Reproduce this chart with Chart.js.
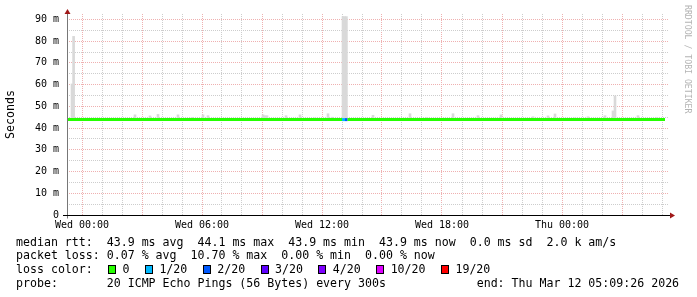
<!DOCTYPE html>
<html>
<head>
<meta charset="utf-8">
<script src="https://cdn.jsdelivr.net/npm/chart.js@4.4.1/dist/chart.umd.min.js"></script>
<style>
html, body { margin: 0; padding: 0; background: #fff; }
#wrap { position: relative; width: 697px; height: 297px; overflow: hidden; }
#graph { position: absolute; left: 0; top: 0; }
.txt { position: absolute; left: 16px; font-family: "DejaVu Sans Mono", monospace; font-size: 11.6px; line-height: 14px; white-space: pre; color: #000; }
#lossRow { position: absolute; left: 108px; top: 262px; display: flex; align-items: center; height: 14px;
  font-family: "DejaVu Sans Mono", monospace; font-size: 11.6px; white-space: pre; color: #000; }
#lossRow .box { display: inline-block; width: 6px; height: 7px; border: 1px solid #000; margin-right: 6.5px; }
#lossRow .lab { margin-right: 15.4px; }
#credit { position: absolute; left: 683px; top: 5px; writing-mode: vertical-rl; font-family: "DejaVu Sans Mono", monospace;
  font-size: 8.2px; color: #b4b4b4; white-space: pre; }
</style>
</head>
<body>
<div id="wrap">
  <canvas id="graph" width="697" height="297"></canvas>
  <div id="credit">RRDTOOL / TOBI OETIKER</div>
  <div class="txt" style="top:235px">median rtt:  43.9 ms avg  44.1 ms max  43.9 ms min  43.9 ms now  0.0 ms sd  2.0 k am/s</div>
  <div class="txt" style="top:248px">packet loss: 0.07 % avg  10.70 % max  0.00 % min  0.00 % now</div>
  <div class="txt" style="top:262px">loss color:</div>
  <div id="lossRow"></div>
  <div class="txt" style="top:276px">probe:       20 ICMP Echo Pings (56 Bytes) every 300s             end: Thu Mar 12 05:09:26 2026</div>
</div>
<script>
// hours relative to Wed 00:00
const hourTicks = [0, 6, 12, 18, 24];
const hourLabels = ['Wed 00:00', 'Wed 06:00', 'Wed 12:00', 'Wed 18:00', 'Thu 00:00'];
const yTickValues = [0, 10, 20, 30, 40, 50, 60, 70, 80, 90];
const yTickLabels = ['0', '10 m', '20 m', '30 m', '40 m', '50 m', '60 m', '70 m', '80 m', '90 m'];

// loss colour legend
const lossNames = ['0', '1/20', '2/20', '3/20', '4/20', '10/20', '19/20'];
const lossColors = ['#26ff00', '#00b8ff', '#0059ff', '#5e00ff', '#7e00ff', '#dd00ff', '#ff0000'];

// smoke (ms), one entry per 5 min step that stands out
const smokeTimes = [-0.5, -0.42, 2.65, 3.4, 3.8, 4.8, 5.5, 6.05, 6.3, 9.05, 9.15, 9.25, 10.2, 10.9, 11.65, 12.3, 12.5,
  13.05, 13.13, 13.22, 14.55, 16.4, 17.25, 18.55, 19.8, 20.95, 22.55, 23.3, 23.65, 24.65, 25.3, 26.15, 26.55, 26.65, 27.8, 28.75];
const smokeLow = [43.5, 43.5, 43.5, 43.5, 43.5, 43.5, 43.5, 43.5, 43.5, 43.5, 43.5, 43.5, 43.5, 43.5, 43.5, 43.5, 43.5,
  43.5, 43.5, 43.5, 43.5, 43.5, 43.5, 43.5, 43.5, 43.5, 43.5, 43.5, 43.5, 43.5, 43.5, 43.5, 43.5, 43.5, 43.5, 43.5];
const smokeHigh = [60.3, 82.2, 46.1, 45.6, 46.3, 46.1, 44.9, 46.1, 45.7, 46.1, 45.7, 45.7, 45.7, 46.1, 44.7, 46.6, 45.0,
  91.3, 91.3, 91.3, 45.9, 46.6, 44.8, 46.6, 45.7, 46.1, 45.2, 45.6, 46.5, 44.7, 45.2, 45.7, 47.9, 54.8, 45.7, 44.8];

// median rtt (ms) and the loss level of the segment that starts at each point
const medianTimes = [-0.75, 13.0, 13.15, 13.28, 29.15];
const medianValues = [43.9, 43.9, 43.9, 43.9, 43.9];
const medianLoss = [0, 1, 2, 0, 0];

const lossRow = document.getElementById('lossRow');
lossNames.forEach((name, i) => {
    const box = document.createElement('span');
    box.className = 'box';
    box.style.background = lossColors[i];
    const lab = document.createElement('span');
    lab.className = 'lab';
    lab.textContent = name;
    lossRow.appendChild(box);
    lossRow.appendChild(lab);
});

const axesPlugin = {
    id: 'rrdAxes',
    afterDatasetsDraw(chart) {
        const ctx = chart.ctx;
        const a = chart.chartArea;
        const y0 = Math.round(chart.scales.y.getPixelForValue(0)) + 0.5;
        ctx.save();
        // y axis
        ctx.strokeStyle = '#777';
        ctx.lineWidth = 1;
        ctx.beginPath();
        ctx.moveTo(a.left + 0.5, y0 + 3);
        ctx.lineTo(a.left + 0.5, a.top - 3);
        ctx.stroke();
        // x axis
        ctx.strokeStyle = '#000';
        ctx.beginPath();
        ctx.moveTo(a.left - 4, y0);
        ctx.lineTo(a.right + 2, y0);
        ctx.stroke();
        // arrows
        ctx.fillStyle = '#a01818';
        ctx.beginPath();
        ctx.moveTo(a.right + 6, y0);
        ctx.lineTo(a.right + 1, y0 - 3);
        ctx.lineTo(a.right + 1, y0 + 3);
        ctx.closePath();
        ctx.fill();
        ctx.beginPath();
        ctx.moveTo(a.left + 0.5, a.top - 5);
        ctx.lineTo(a.left - 2.5, a.top);
        ctx.lineTo(a.left + 3.5, a.top);
        ctx.closePath();
        ctx.fill();
        ctx.restore();
    }
};

const tickFont = { family: 'DejaVu Sans Mono', size: 10 };
const majorGrid = '#efb0b0';
const minorGrid = '#cdcdcd';

new Chart(document.getElementById('graph').getContext('2d'), {
    type: 'bar',
    data: {
        datasets: [{
            type: 'line',
            data: medianTimes.map((t, i) => ({ x: t, y: medianValues[i] })),
            borderWidth: 3,
            borderCapStyle: 'butt',
            pointRadius: 0,
            tension: 0,
            segment: {
                borderColor: c => lossColors[medianLoss[c.p0DataIndex]]
            }
        }, {
            type: 'bar',
            data: smokeTimes.map((t, i) => ({ x: t, y: [smokeLow[i], smokeHigh[i]] })),
            backgroundColor: '#d9d9d9',
            borderWidth: 0,
            barThickness: 2,
            grouped: false
        }]
    },
    options: {
        responsive: false,
        animation: false,
        devicePixelRatio: 1,
        layout: { padding: { top: 13, right: 28, left: 0, bottom: 0 } },
        plugins: { legend: { display: false }, tooltip: { enabled: false } },
        scales: {
            x: {
                type: 'linear',
                offset: false,
                min: -0.75,
                max: 29.35,
                afterFit: s => { s.height = 82; },
                afterBuildTicks: s => {
                    const t = [];
                    for (let h = 0; h <= 29; h++) t.push({ value: h });
                    s.ticks = t;
                },
                ticks: {
                    autoSkip: false,
                    maxRotation: 0,
                    padding: 4,
                    color: '#000',
                    font: tickFont,
                    callback: v => {
                        const i = hourTicks.indexOf(v);
                        return i >= 0 ? hourLabels[i] : '';
                    }
                },
                grid: {
                    offset: false,
                    drawTicks: false,
                    color: c => (c.tick && c.tick.value % 3 === 0) ? majorGrid : minorGrid
                },
                border: { display: false, dash: [1, 1] }
            },
            y: {
                type: 'linear',
                min: 0,
                max: 92.5,
                afterFit: s => { s.width = 67; },
                afterBuildTicks: s => {
                    const t = [];
                    for (let v = 0; v <= 90; v += 5) t.push({ value: v });
                    s.ticks = t;
                },
                ticks: {
                    autoSkip: false,
                    padding: 8,
                    color: '#000',
                    font: tickFont,
                    callback: v => {
                        const i = yTickValues.indexOf(v);
                        return i >= 0 ? yTickLabels[i] : '';
                    }
                },
                title: {
                    display: true,
                    text: 'Seconds',
                    color: '#000',
                    font: { family: 'DejaVu Sans Mono', size: 11.6 },
                    padding: { top: 4, bottom: 0 }
                },
                grid: {
                    drawTicks: false,
                    color: c => (c.tick && c.tick.value % 10 === 0) ? majorGrid : minorGrid
                },
                border: { display: false, dash: [1, 1] }
            }
        }
    },
    plugins: [axesPlugin]
});
</script>
</body>
</html>
